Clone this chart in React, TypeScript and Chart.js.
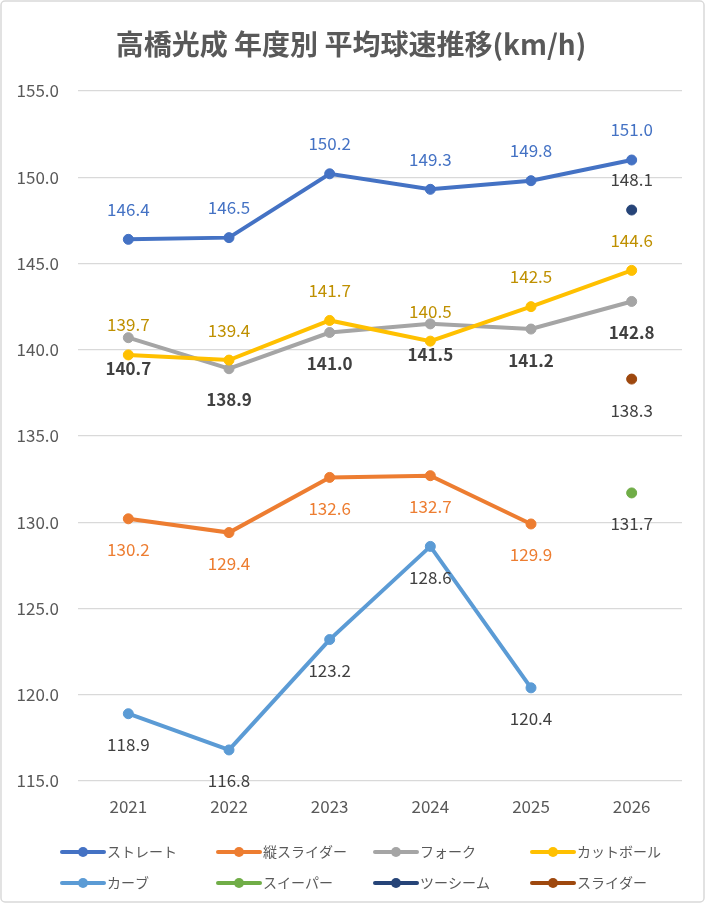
import React, { useEffect, useRef } from "react";
import { Chart, registerables } from "chart.js";

Chart.register(...registerables);

const TITLE = "高橋光成 年度別 平均球速推移(km/h)";
const years = ["2021", "2022", "2023", "2024", "2025", "2026"];
const seriesNames = ["ストレート", "縦スライダー", "フォーク", "カットボール", "カーブ", "スイーパー", "ツーシーム", "スライダー"];
const straight = [146.4, 146.5, 150.2, 149.3, 149.8, 151.0];
const verticalSlider = [130.2, 129.4, 132.6, 132.7, 129.9, null];
const fork = [140.7, 138.9, 141.0, 141.5, 141.2, 142.8];
const cutter = [139.7, 139.4, 141.7, 140.5, 142.5, 144.6];
const curve = [118.9, 116.8, 123.2, 128.6, 120.4, null];
const sweeper = [null, null, null, null, null, 131.7];
const twoSeam = [null, null, null, null, null, 148.1];
const slider = [null, null, null, null, null, 138.3];
const yTicks = [115, 120, 125, 130, 135, 140, 145, 150, 155];

const seriesValues = [straight, verticalSlider, fork, cutter, curve, sweeper, twoSeam, slider];
const colors = ["#4472C4", "#ED7D31", "#A5A5A5", "#FFC000", "#5B9BD5", "#70AD47", "#264478", "#9E480E"];
const labelColors = ["#4472C4", "#ED7D31", "#404040", "#BF9000", "#404040", "#404040", "#404040", "#404040"];
const labelWeights = ["normal", "normal", "bold", "normal", "normal", "normal", "normal", "normal"];
const labelAbove = [true, false, false, true, false, false, true, false];

const FONT = "'Noto Sans CJK JP', 'Noto Sans', sans-serif";

const framePlugin = {
  id: "frame",
  beforeDraw(chart: any) {
    const { ctx, width, height } = chart;
    ctx.save();
    ctx.fillStyle = "#ffffff";
    ctx.fillRect(0, 0, width, height);
    ctx.strokeStyle = "#D9D9D9";
    ctx.lineWidth = 1.5;
    const r = 4;
    const x = 1, y = 1, w = width - 2, h = height - 2;
    ctx.beginPath();
    ctx.moveTo(x + r, y);
    ctx.arcTo(x + w, y, x + w, y + h, r);
    ctx.arcTo(x + w, y + h, x, y + h, r);
    ctx.arcTo(x, y + h, x, y, r);
    ctx.arcTo(x, y, x + w, y, r);
    ctx.closePath();
    ctx.stroke();
    ctx.restore();
  },
  afterDraw(chart: any) {
    const { ctx } = chart;
    ctx.save();
    // title
    ctx.fillStyle = "#595959";
    ctx.font = `bold 28px ${FONT}`;
    ctx.textAlign = "center";
    ctx.textBaseline = "middle";
    ctx.fillText(TITLE, 351, 44);

    // data labels
    chart.data.datasets.forEach((ds: any, i: number) => {
      const meta = chart.getDatasetMeta(i);
      ctx.font = `${labelWeights[i]} 17px ${FONT}`;
      ctx.fillStyle = labelColors[i];
      ctx.textAlign = "center";
      ctx.textBaseline = "middle";
      meta.data.forEach((pt: any, j: number) => {
        const v = ds.data[j];
        if (v === null || v === undefined) return;
        const yy = labelAbove[i] ? pt.y - 30 : pt.y + 31;
        ctx.fillText(Number(v).toFixed(1), pt.x, yy);
      });
    });

    // legend
    const colX = [62, 218, 375, 532];
    const rowY = [852, 883];
    ctx.font = `14px ${FONT}`;
    ctx.textAlign = "left";
    ctx.textBaseline = "middle";
    chart.data.datasets.forEach((ds: any, i: number) => {
      const x = colX[i % 4];
      const y = rowY[Math.floor(i / 4)];
      ctx.strokeStyle = ds.borderColor;
      ctx.lineWidth = 4;
      ctx.lineCap = "round";
      ctx.beginPath();
      ctx.moveTo(x, y);
      ctx.lineTo(x + 42, y);
      ctx.stroke();
      ctx.fillStyle = ds.borderColor;
      ctx.beginPath();
      ctx.arc(x + 21, y, 5, 0, Math.PI * 2);
      ctx.fill();
      ctx.fillStyle = "#595959";
      ctx.fillText(ds.label, x + 45, y);
    });
    ctx.restore();
  },
};

export default function App() {
  const ref = useRef<HTMLCanvasElement | null>(null);
  useEffect(() => {
    document.body.style.margin = "0";
    if (!ref.current) return;
    const chart = new Chart(ref.current, {
      type: "line",
      data: {
        labels: years,
        datasets: seriesNames.map((name, i) => ({
          label: name,
          data: seriesValues[i],
          borderColor: colors[i],
          backgroundColor: colors[i],
          pointBackgroundColor: colors[i],
          pointBorderColor: colors[i],
          borderWidth: 4,
          pointRadius: 5,
          pointHoverRadius: 5,
          pointBorderWidth: 1,
          spanGaps: false,
          tension: 0,
          order: 10 - i,
        })),
      },
      options: {
        animation: false,
        responsive: false,
        maintainAspectRatio: false,
        layout: { padding: { left: 0, right: 23, top: 91, bottom: 82 } },
        plugins: {
          legend: { display: false },
          title: { display: false },
          tooltip: { enabled: false },
        },
        scales: {
          x: {
            offset: true,
            grid: { display: false, drawTicks: false },
            border: { display: false },
            ticks: { color: "#595959", font: { family: FONT, size: 17 }, padding: 15 },
            afterFit: (s: any) => { s.height = 40; },
          },
          y: {
            min: 115,
            max: 155,
            afterBuildTicks: (s: any) => { s.ticks = yTicks.map((v) => ({ value: v })); },
            grid: { color: "#D9D9D9", lineWidth: 1.3, drawTicks: false },
            border: { display: false },
            ticks: {
              color: "#595959",
              font: { family: FONT, size: 17 },
              padding: 19,
              callback: (v: any) => Number(v).toFixed(1),
            },
            afterFit: (s: any) => { s.width = 78; },
          },
        },
      },
      plugins: [framePlugin],
    });
    return () => chart.destroy();
  }, []);
  return (
    <div style={{ width: 705, height: 903, position: "relative" }}>
      <canvas ref={ref} width={705} height={903} style={{ width: 705, height: 903, display: "block" }} />
    </div>
  );
}
